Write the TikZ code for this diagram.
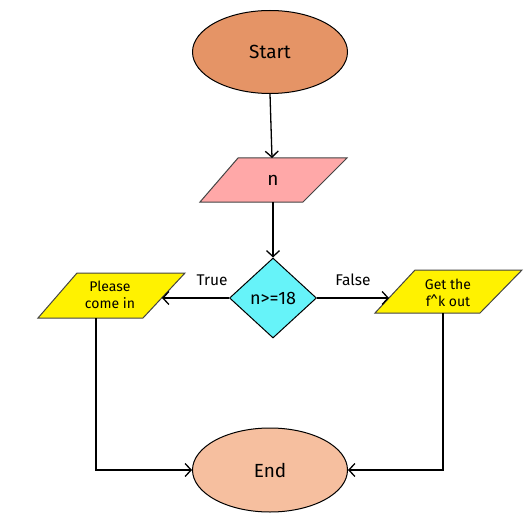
\documentclass[tikz,border=0pt]{standalone}
\usepackage{fontspec}
\setmainfont{Fira Sans}
\usetikzlibrary{shapes.geometric,arrows.meta}
\definecolor{startc}{HTML}{E59466}
\definecolor{inpc}{HTML}{FFA8A8}
\definecolor{decc}{HTML}{66F3F9}
\definecolor{yel}{HTML}{FFF200}
\definecolor{endc}{HTML}{F6BF9F}
\definecolor{edge}{HTML}{444444}
\tikzset{
  term/.style={ellipse, draw=black, line width=1pt, minimum width=155pt, minimum height=83pt, font=\fontsize{19}{22}\selectfont},
  para/.style={draw=edge, line width=1pt, line join=miter},
  ptext/.style={align=center, inner sep=0pt},
  arr/.style={line width=1.3pt, -{Straight Barb[length=6pt,width=13pt]}},
  lbl/.style={font=\fontsize{15.5}{18}\selectfont, inner sep=0pt},
}
\begin{document}
\begin{tikzpicture}[x=1pt,y=-1pt]
\useasboundingbox (0,0) rectangle (524,513);
% Start
\node[term, fill=startc] (start) at (270,52) {Start};
% input n
\draw[para, fill=inpc] (238,158) -- (347,158) -- (303,202) -- (200,202) -- cycle;
\node[ptext, font=\fontsize{19}{22}\selectfont] (n) at (273,180) {n};
\coordinate (ntop) at (272,158);
\coordinate (nbot) at (273,202);
% decision
\node[diamond, draw=black, line width=1pt, fill=decc, minimum width=87pt, minimum height=80pt, inner sep=1pt, font=\fontsize{18}{21}\selectfont] (dec) at (273,298) {n>=18};
% left output
\draw[para, fill=yel] (77,273) -- (185,273) -- (143,318) -- (38,318) -- cycle;
\node[ptext, font=\fontsize{14}{16.5}\selectfont] (please) at (110,295) {Please\\come in};
\coordinate (plr) at (162,298);
\coordinate (plb) at (96,318);
% right output
\draw[para, fill=yel] (415,270) -- (522,270) -- (480,313) -- (375,313) -- cycle;
\node[ptext, font=\fontsize{14}{16.5}\selectfont] (getout) at (448,293) {Get the\\f\textasciicircum k out};
\coordinate (prl) at (389,298);
\coordinate (prb) at (443,313);
% End
\node[term, fill=endc, minimum height=84pt] (end) at (270,470) {End};
% connectors
\draw[arr] (start.south) -- (ntop);
\draw[arr] (nbot) -- (dec.north);
\draw[arr] (dec.west) -- (plr);
\draw[arr] (dec.east) -- (prl);
\draw[arr] (plb) |- (end.west);
\draw[arr] (prb) |- (end.east);
% labels
\node[lbl] (true) at (212,280) {True};
\node[lbl] (false) at (353,280) {False};
\end{tikzpicture}
\end{document}
